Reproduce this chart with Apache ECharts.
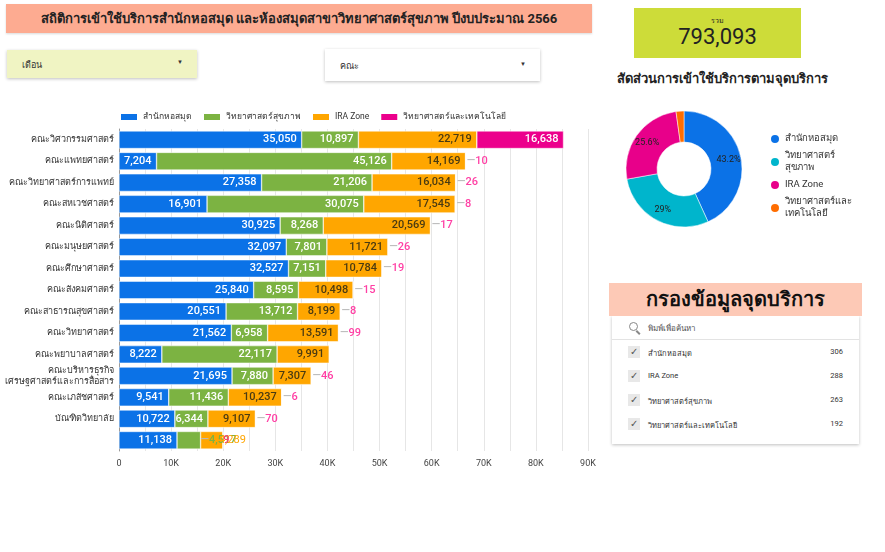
<!DOCTYPE html>
<html>
<head>
<meta charset="utf-8">
<script src="https://cdn.jsdelivr.net/npm/echarts@6/dist/echarts.min.js"></script>
<style>
  body { margin: 0; background: #fff; font-family: Roboto, 'Noto Sans', sans-serif; }
  #page { position: relative; width: 885px; height: 552px; overflow: hidden; }
  .box { position: absolute; box-sizing: border-box; }
  .shadow { box-shadow: 0 1px 3px rgba(0,0,0,0.25); }
  #bars { position: absolute; left: 0; top: 90px; width: 600px; height: 400px; }
  #donut { position: absolute; left: 600px; top: 95px; width: 285px; height: 150px; }
  .row { position: absolute; left: 0; width: 100%; height: 18px; font-size: 7.5px; color: #333; }
  .row .chk { position: absolute; left: 16px; top: 3px; width: 12px; height: 12px; background: #e8e8e8; font-size: 10px; line-height: 12px; text-align: center; color: #555; }
  .row .lbl { position: absolute; left: 36px; top: 4px; }
  .row .cnt { position: absolute; right: 16px; top: 4px; }
  .lens { position: absolute; left: 17px; top: 6px; width: 7px; height: 7px; border: 1.5px solid #888; border-radius: 50%; }
  .handle { position: absolute; left: 25px; top: 14px; width: 5px; height: 1.8px; background: #888; transform: rotate(45deg); transform-origin: 0 0; }
</style>
</head>
<body>
<div id="page">
  <div id="bars"></div>
  <div id="donut"></div>

  <div class="box" style="left:6px;top:4px;width:586px;height:29px;background:#fdab91;box-shadow:0 1px 2px rgba(0,0,0,0.15);font-size:13px;font-weight:bold;color:#222;text-align:center;line-height:29px;">สถิติการเข้าใช้บริการสำนักหอสมุด และห้องสมุดสาขาวิทยาศาสตร์สุขภาพ ปีงบประมาณ 2566</div>

  <div class="box" style="left:634px;top:8px;width:167px;height:50px;background:#cddc39;text-align:center;color:#222;">
    <div style="font-size:7px;margin-top:9px;line-height:8px;">รวม</div>
    <div style="font-size:22px;line-height:24px;">793,093</div>
  </div>

  <div class="box shadow" style="left:7px;top:50px;width:190px;height:28px;background:#f0f4c3;font-size:9px;color:#333;">
    <span style="position:absolute;left:15px;top:8px;">เดือน</span>
    <span style="position:absolute;left:170px;top:8px;font-size:6px;">▼</span>
  </div>
  <div class="box shadow" style="left:325px;top:49px;width:215px;height:32px;background:#fff;font-size:9px;color:#333;">
    <span style="position:absolute;left:15px;top:10px;">คณะ</span>
    <span style="position:absolute;left:195px;top:11px;font-size:6px;">▼</span>
  </div>

  <div class="box" style="left:617px;top:68px;font-size:13px;font-weight:bold;color:#222;white-space:nowrap;">สัดส่วนการเข้าใช้บริการตามจุดบริการ</div>

  <div class="box shadow" style="left:612px;top:316px;width:247px;height:128px;background:#fff;">
    <div class="lens"></div><div class="handle"></div>
    <div style="position:absolute;left:36px;top:6px;font-size:8px;color:#555;">พิมพ์เพื่อค้นหา</div>
    <div style="position:absolute;left:0;top:23px;width:100%;height:1px;background:#e3e3e3;"></div>
    <div class="row" style="top:27px;"><span class="chk">✓</span><span class="lbl">สำนักหอสมุด</span><span class="cnt">306</span></div>
    <div class="row" style="top:51px;"><span class="chk">✓</span><span class="lbl">IRA Zone</span><span class="cnt">288</span></div>
    <div class="row" style="top:75px;"><span class="chk">✓</span><span class="lbl">วิทยาศาสตร์สุขภาพ</span><span class="cnt">263</span></div>
    <div class="row" style="top:99px;"><span class="chk">✓</span><span class="lbl">วิทยาศาสตร์และเทคโนโลยี</span><span class="cnt">192</span></div>
  </div>
  <div class="box" style="left:609px;top:283px;width:253px;height:33px;background:#fdc9b6;font-size:20px;font-weight:bold;color:#111;text-align:center;line-height:33px;">กรองข้อมูลจุดบริการ</div>
</div>

<script>
// faculties (last row has no name in the source)
const faculties = ['คณะวิศวกรรมศาสตร์', 'คณะแพทยศาสตร์', 'คณะวิทยาศาสตร์การแพทย์', 'คณะสหเวชศาสตร์',
    'คณะนิติศาสตร์', 'คณะมนุษยศาสตร์', 'คณะศึกษาศาสตร์', 'คณะสังคมศาสตร์', 'คณะสาธารณสุขศาสตร์',
    'คณะวิทยาศาสตร์', 'คณะพยาบาลศาสตร์', 'คณะบริหารธุรกิจ\nเศรษฐศาสตร์และการสื่อสาร', 'คณะเภสัชศาสตร์',
    'บัณฑิตวิทยาลัย', ''];
const library = [35050, 7204, 27358, 16901, 30925, 32097, 32527, 25840, 20551, 21562, 8222, 21695, 9541, 10722, 11138];
const health = [10897, 45126, 21206, 30075, 8268, 7801, 7151, 8595, 13712, 6958, 22117, 7880, 11436, 6344, 4517];
const iraZone = [22719, 14169, 16034, 17545, 20569, 11721, 10784, 10498, 8199, 13591, 9991, 7307, 10237, 9107, 4289];
const sciTech = [16638, 10, 26, 8, 17, 26, 19, 15, 8, 99, null, 46, 6, 70, 9];

const pointNames = ['สำนักหอสมุด', 'วิทยาศาสตร์สุขภาพ', 'IRA Zone', 'วิทยาศาสตร์และเทคโนโลยี'];
const sharePct = [43.2, 29, 25.6, 2.2];

const fmt = v => v == null ? '' : Number(v).toLocaleString('en-US');
const labelFont = { fontFamily: 'Roboto', fontSize: 11, fontWeight: 500 };

function barSeries(name, values, color, textColor) {
    return {
        name: name,
        type: 'bar',
        stack: 'total',
        barCategoryGap: '18%',
        itemStyle: { color: color, borderColor: '#fff', borderWidth: 0.5 },
        label: Object.assign({ show: true, position: 'insideRight', color: textColor, formatter: p => fmt(p.value) }, labelFont),
        data: values.map(v => ({ value: v }))
    };
}

const sLib = barSeries(pointNames[0], library, '#0b72e7', '#fff');
const sHealth = barSeries(pointNames[1], health, '#7cb342', '#fff');
const sIra = barSeries(pointNames[2], iraZone, '#ffa600', '#4a3b12');
const sSci = barSeries(pointNames[3], sciTech, '#ec008c', '#fff');

// tiny values sit outside with a short leader dash
sSci.data.forEach((d, i) => {
    if (i > 0) {
        d.label = {
            position: 'right', distance: 1,
            formatter: p => p.value == null ? '' : '{l|—}{v|' + fmt(p.value) + '}',
            rich: {
                l: { color: '#bbb', fontSize: 11 },
                v: { color: '#ff3fa4', fontSize: 11, fontFamily: 'Roboto' }
            }
        };
    }
});
// last row labels do not fit and spill over
const last = faculties.length - 1;
sHealth.data[last].label = {
    position: 'right', distance: 0,
    formatter: p => '{l|—}{v|' + fmt(p.value) + '}',
    rich: { l: { color: '#bbb', fontSize: 11 }, v: { color: '#7cb342', fontSize: 11, fontFamily: 'Roboto' } }
};
sIra.data[last].label = { position: 'right', distance: 0, offset: [-4, 0], color: '#ffa600', fontWeight: 400 };
sSci.data[last].label = { position: 'right', distance: 0, color: '#ff3f6a', formatter: p => fmt(p.value) };

const bars = echarts.init(document.getElementById('bars'));
bars.setOption({
    animation: false,
    textStyle: { fontFamily: 'Roboto, "Noto Sans", sans-serif' },
    legend: {
        top: 17,
        left: 114,
        itemWidth: 18,
        itemHeight: 8,
        itemGap: 10,
        icon: 'rect',
        textStyle: { fontSize: 8.5, color: '#333' },
        data: pointNames
    },
    grid: { left: 119, right: 12, top: 39, bottom: 39 },
    xAxis: {
        type: 'value',
        min: 0,
        max: 90000,
        interval: 5000,
        axisLine: { show: false },
        axisTick: { show: false },
        splitLine: { lineStyle: { color: '#e6e6e6' } },
        axisLabel: {
            fontSize: 9, color: '#444', margin: 8,
            formatter: v => v === 0 ? '0' : (v % 10000 === 0 ? (v / 1000) + 'K' : '')
        }
    },
    yAxis: {
        type: 'category',
        inverse: true,
        data: faculties,
        axisLine: { show: true, lineStyle: { color: '#999' } },
        axisTick: { show: false },
        axisLabel: { fontSize: 9, color: '#333', margin: 5, lineHeight: 11 }
    },
    series: [sLib, sHealth, sIra, sSci]
});

const pieColors = ['#0b72e7', '#00b5cc', '#e8008a', '#ff6d00'];
const donut = echarts.init(document.getElementById('donut'));
donut.setOption({
    animation: false,
    textStyle: { fontFamily: 'Roboto, "Noto Sans", sans-serif' },
    color: pieColors,
    legend: {
        orient: 'vertical',
        left: 164,
        top: 33,
        icon: 'circle',
        itemWidth: 10,
        itemHeight: 10,
        itemGap: 5,
        textStyle: { fontSize: 9.5, color: '#333', lineHeight: 12 },
        formatter: n => n === 'วิทยาศาสตร์สุขภาพ' ? 'วิทยาศาสตร์\nสุขภาพ'
            : (n === 'วิทยาศาสตร์และเทคโนโลยี' ? 'วิทยาศาสตร์และ\nเทคโนโลยี' : n)
    },
    series: [{
        type: 'pie',
        center: [84, 74],
        radius: [27, 58],
        startAngle: 90,
        clockwise: true,
        itemStyle: { borderColor: '#fff', borderWidth: 0.5 },
        label: {
            show: true, position: 'inside', fontSize: 9, color: '#222',
            formatter: p => p.value < 5 ? '' : p.value + '%'
        },
        labelLine: { show: false },
        data: pointNames.map((n, i) => ({ name: n, value: sharePct[i] }))
    }]
});
</script>
</body>
</html>
